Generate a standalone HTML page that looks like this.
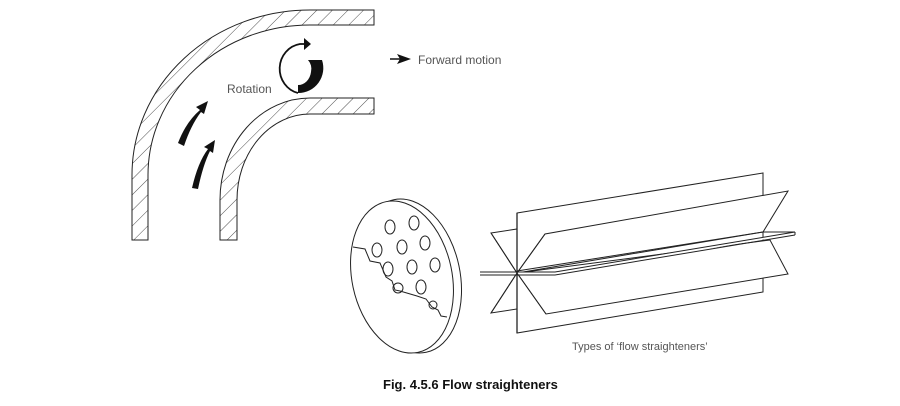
<!DOCTYPE html>
<html><head><meta charset="utf-8"><style>
html,body{margin:0;padding:0;background:#fff;width:900px;height:406px;overflow:hidden}
svg{display:block}
text{font-family:"Liberation Sans",Arial,sans-serif}
</style></head><body>
<svg width="900" height="406" viewBox="0 0 900 406" xmlns="http://www.w3.org/2000/svg">
<defs>
<pattern id="h" patternUnits="userSpaceOnUse" width="11" height="11" patternTransform="rotate(45)">
<line x1="0" y1="0" x2="0" y2="11" stroke="#222" stroke-width="0.8"/>
</pattern>
</defs>
<g stroke="#222" stroke-width="1" fill="url(#h)">
<path d="M132,240 L132,175 A178,165 0 0 1 310,10 L374,10 L374,25 L310,25 A162,150 0 0 0 148,175 L148,240 Z"/>
<path d="M220,240 L220,200 A90,102 0 0 1 310,98 L374,98 L374,114 L310,114 A73,86 0 0 0 237,200 L237,240 Z"/>
</g>
<path d="M178,143 Q186,122 200,110 L196,107 L208,101 L204,114 L201,112 Q191,125 184,146 Z" fill="#111"/>
<path d="M192,188 Q198,162 208,149 L204,147 L215,140 L213,153 L210,151 Q203,165 198,189 Z" fill="#111"/>
<path d="M298,93 A24,25 0 0 1 300,44 L306,44" fill="none" stroke="#111" stroke-width="1.8"/>
<path d="M304,38 L311,44 L304,50 Z" fill="#111"/>
<path d="M298,93 A25,25 0 0 0 322,60 L308,60 A12,13 0 0 1 311,72 A13,15 0 0 1 298,85 Z" fill="#111"/>
<text x="227" y="93" font-size="12" fill="#555">Rotation</text>
<line x1="390" y1="59" x2="404" y2="59" stroke="#111" stroke-width="1.5"/>
<path d="M397,54 L411,59 L397,64 L400,59 Z" fill="#111"/>
<text x="418" y="64" font-size="12" fill="#555">Forward motion</text>
<g fill="none" stroke="#222" stroke-width="1">
<ellipse cx="410" cy="276" rx="50" ry="78" transform="rotate(-12 410 276)"/>
<ellipse cx="402" cy="277" rx="50" ry="77" transform="rotate(-12 402 277)" fill="#fff"/>
<path d="M353,247 L365,249 L370,261 L380,263 L386,277 L392,281 L395,290 L400,291 L417,296 L426,299 L432,307 L438,310 L441,316 L447,317"/>
<ellipse cx="390" cy="227" rx="5" ry="7"/><ellipse cx="414" cy="223" rx="5" ry="7"/>
<ellipse cx="377" cy="250" rx="5" ry="7"/><ellipse cx="402" cy="247" rx="5" ry="7"/>
<ellipse cx="425" cy="243" rx="5" ry="7"/><ellipse cx="388" cy="269" rx="5" ry="7"/>
<ellipse cx="412" cy="267" rx="5" ry="7"/><ellipse cx="435" cy="265" rx="5" ry="7"/>
<ellipse cx="398" cy="288" rx="5" ry="5"/><ellipse cx="421" cy="287" rx="5" ry="7"/>
<ellipse cx="433" cy="305" rx="4" ry="4"/>
</g>
<g fill="#fff" stroke="#222" stroke-width="1">
<polygon points="517,213 763,173 763,292 517,333"/>
<polygon points="517,273 491,233 517,229"/>
<polygon points="517,273 491,313 517,309"/>
<polygon points="517,273 546,314 788,274 770,240"/>
<polygon points="517,273 545,234 788,191 763,232"/>
<polygon points="480,272 555,272 763,237 795,232 795,234 555,275 480,275" stroke="none"/>
</g>
<g fill="none" stroke="#222" stroke-width="1">
<polyline points="480,272 555,272 795,232"/>
<polyline points="480,275 555,275 795,235"/>
<line x1="795" y1="232" x2="795" y2="235"/>
<line x1="517" y1="271" x2="763" y2="232"/>
<line x1="763" y1="232" x2="795" y2="232"/>
<line x1="517" y1="273" x2="491" y2="233"/><line x1="517" y1="273" x2="545" y2="234"/>
<line x1="517" y1="273" x2="491" y2="313"/><line x1="517" y1="273" x2="546" y2="314"/>
<line x1="517" y1="213" x2="517" y2="333" stroke-width="1.3"/>
</g>
<text x="572" y="350" font-size="11" fill="#555">Types of ‘flow straighteners’</text>
<text x="383" y="389" font-size="13" font-weight="bold" fill="#111">Fig. 4.5.6 Flow straighteners</text>
</svg>
</body></html>
